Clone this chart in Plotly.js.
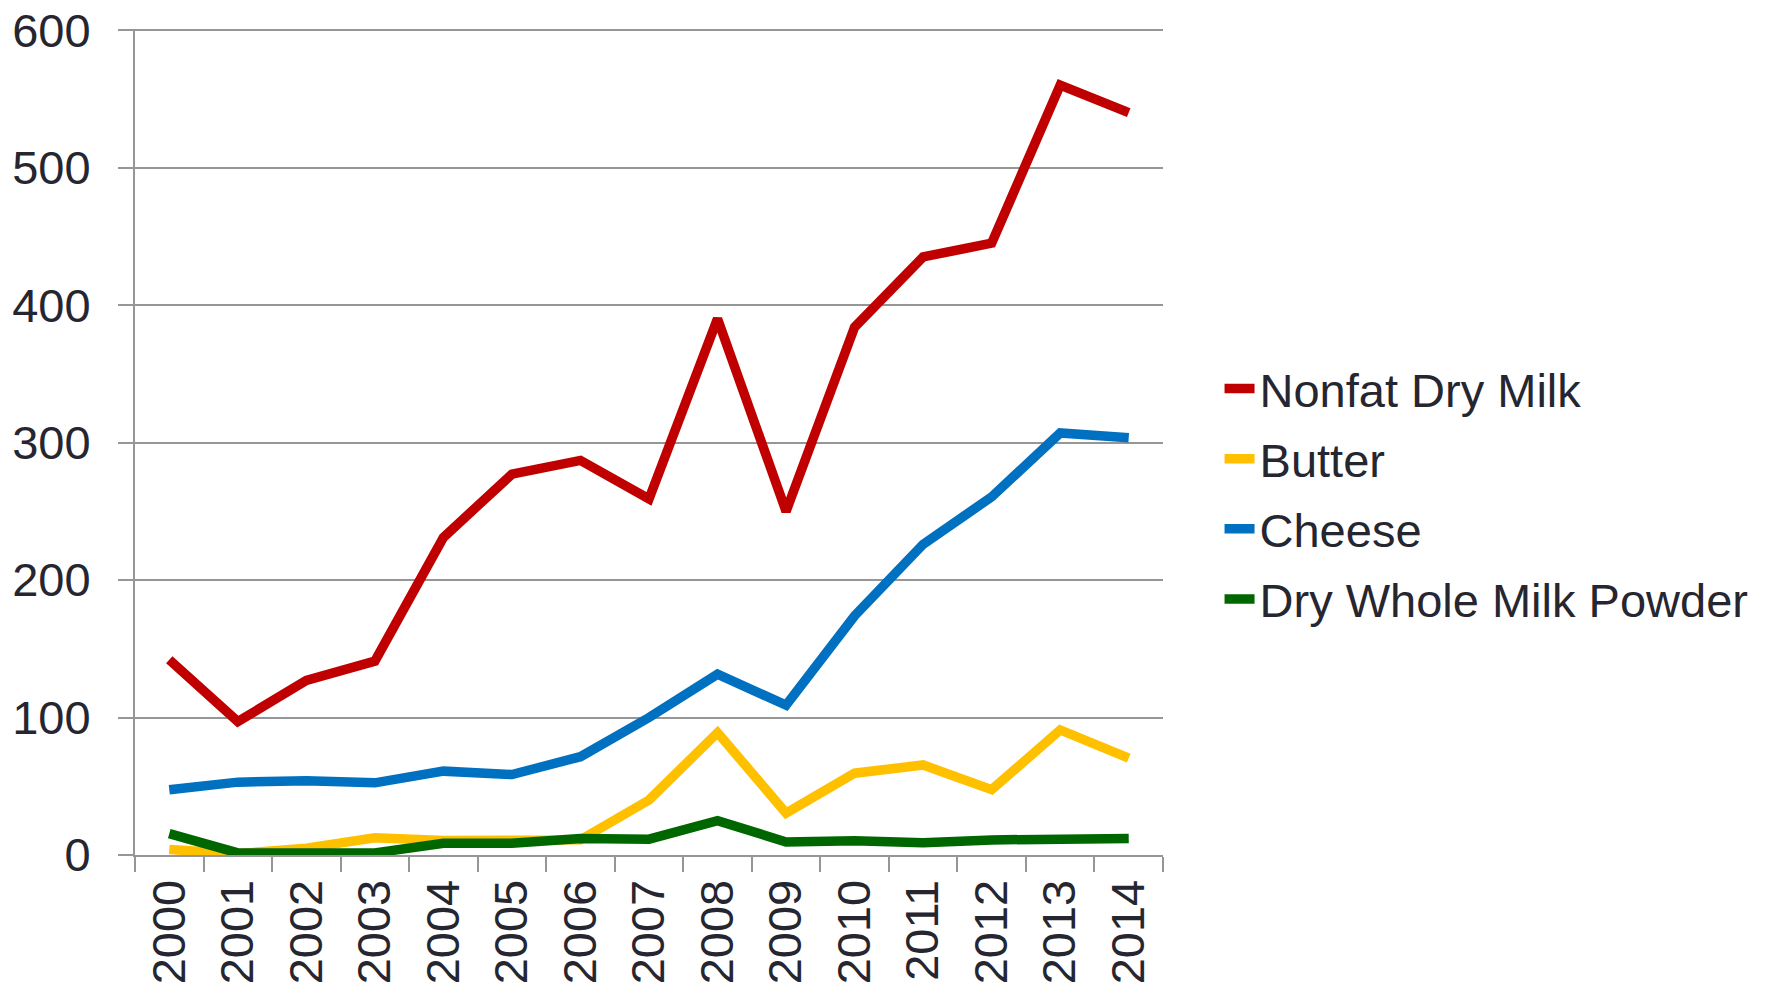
<!DOCTYPE html>
<html>
<head>
<meta charset="utf-8">
<script src="https://cdn.plot.ly/plotly-3.0.1.min.js"></script>
<style>
html,body{margin:0;padding:0;background:#fff;}
#chart{width:1785px;height:995px;}
</style>
</head>
<body>
<div id="chart"></div>
<script>
const years = ["2000","2001","2002","2003","2004","2005","2006","2007","2008","2009","2010","2011","2012","2013","2014"];
const nonfatDryMilk = [142, 97, 127, 141, 231, 277, 287, 259, 390, 250, 384, 435, 445, 560, 540];
const butter = [4, 1, 5, 12.5, 10.5, 10.5, 11, 40, 89, 30.5, 59.5, 65.5, 47.5, 91, 70.5];
const cheese = [47.5, 53, 54, 52.5, 61, 58.5, 71.5, 100, 131.5, 109, 174, 226, 260.5, 307, 303.5];
const dryWholeMilkPowder = [15.5, 1.5, 1.5, 1.5, 8.5, 8.5, 12, 11.5, 25, 9.5, 10.3, 9, 11, 12, 12];
const seriesNames = ["Nonfat Dry Milk", "Butter", "Cheese", "Dry Whole Milk Powder"];
const seriesColors = ["#C00000", "#FFC000", "#0070C0", "#006600"];
const yTicks = [0, 100, 200, 300, 400, 500, 600];

const values = [nonfatDryMilk, butter, cheese, dryWholeMilkPowder];
const textColor = "#262630";
const gridColor = "#969696";
const font = "'Liberation Sans', Arial, sans-serif";

const traces = values.map((v, i) => ({
  type: "scatter",
  mode: "lines",
  x: years,
  y: v,
  name: seriesNames[i],
  legendgroup: "g" + i,
  line: {color: seriesColors[i], width: 9.5}
}));

const layout = {
  width: 1785,
  height: 995,
  margin: {l: 135, r: 622, t: 29, b: 140},
  paper_bgcolor: "#ffffff",
  plot_bgcolor: "#ffffff",
  font: {family: font, size: 47, color: textColor},
  showlegend: true,
  legend: {
    x: 1.055, xanchor: "left",
    y: 0.437, yanchor: "middle",
    font: {family: font, size: 47, color: textColor},
    bgcolor: "rgba(0,0,0,0)",
    tracegroupgap: 6,
    itemwidth: 30
  },
  xaxis: {
    type: "category",
    range: [-0.5, 14.5],
    tickangle: -90,
    tickson: "boundaries",
    ticks: "outside",
    ticklen: 15,
    tickwidth: 2,
    tickcolor: gridColor,
    ticklabelstandoff: 4,
    showline: true,
    linecolor: gridColor,
    linewidth: 2,
    showgrid: false,
    zeroline: false,
    tickfont: {family: font, size: 47, color: textColor},
    fixedrange: true
  },
  yaxis: {
    range: [0, 600.8],
    tickvals: yTicks,
    ticktext: yTicks.map(String),
    ticks: "outside",
    ticklen: 15,
    tickwidth: 2,
    tickcolor: gridColor,
    ticklabelstandoff: 18,
    ticklabeloverflow: "allow",
    showline: true,
    linecolor: gridColor,
    linewidth: 2,
    showgrid: true,
    gridcolor: gridColor,
    gridwidth: 2,
    zeroline: false,
    tickfont: {family: font, size: 47, color: textColor},
    fixedrange: true
  }
};

Plotly.newPlot("chart", traces, layout, {displayModeBar: false, staticPlot: true});
</script>
</body>
</html>
